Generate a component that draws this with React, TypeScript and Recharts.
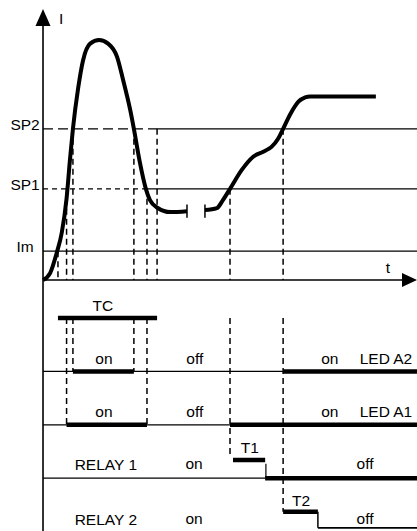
import React from 'react';
import { LineChart, Line, XAxis, YAxis, ReferenceLine, ReferenceDot } from 'recharts';

const W = 417;
const H = 531;

// time axis (arbitrary units: 0 = origin, 100 = arrow tip)
const T_DOMAIN: [number, number] = [-11.5, 100];
// current axis (arbitrary units: 0 = time axis)
const I_DOMAIN: [number, number] = [-104.6, 116.7];
// timing rows below the graph (0 = TC, 1 = LED A2, 2 = LED A1, 3 = RELAY 1, ~4 = RELAY 2)
const ROW_DOMAIN: [number, number] = [-5.955, 3.989];

// threshold levels
const levelNames = ['SP2', 'SP1', 'Im'];
const levelValues = [63, 38, 12];
const levelDashEnd = [30.5, 27.8, 0];
const levelDash = ['10 5', '5 4', ''];

// current curve, first part (start-up peak)
const curveA = [
  { t: 0, I: 0 },
  { t: 1.9, I: 2.9 },
  { t: 3.7, I: 11.5 },
  { t: 5.0, I: 19.6 },
  { t: 6.3, I: 34 },
  { t: 7.2, I: 50 },
  { t: 8.0, I: 63 },
  { t: 9.4, I: 80 },
  { t: 10.7, I: 91.5 },
  { t: 12.6, I: 98.5 },
  { t: 15.0, I: 100 },
  { t: 17.4, I: 98.5 },
  { t: 19.8, I: 93 },
  { t: 21.4, I: 83.5 },
  { t: 23.3, I: 71 },
  { t: 24.3, I: 63 },
  { t: 25.9, I: 49 },
  { t: 27.5, I: 38 },
  { t: 28.6, I: 33.3 },
  { t: 30.7, I: 30 },
  { t: 34.0, I: 28.3 },
  { t: 38.5, I: 28.7 },
];

// current curve, second part (after the break)
const curveB = [
  { t: 43.3, I: 29.2 },
  { t: 46.5, I: 30 },
  { t: 48.1, I: 33.3 },
  { t: 50.0, I: 38 },
  { t: 53.1, I: 45.8 },
  { t: 56.2, I: 51.4 },
  { t: 58.9, I: 53.5 },
  { t: 61.1, I: 55.5 },
  { t: 62.9, I: 59 },
  { t: 64.2, I: 63 },
  { t: 66.0, I: 68.75 },
  { t: 68.3, I: 74.3 },
  { t: 70.1, I: 76.1 },
  { t: 71.4, I: 76.5 },
  { t: 89.0, I: 76.5 },
];

const breakTimes = [38.5, 43.3];

// event times
const tIm = 4.0;
const tSp1Up = 6.3;
const tSp2Up = 8.0;
const tSp2Dn = 24.3;
const tSp1Dn = 27.8;
const tTcEnd = 30.5;
const tSp1Up2 = 50.0;
const tT1Start = 50.8;
const tT1End = 59.4;
const tSp2Up2 = 64.2;
const tT2End = 73.5;
const tEnd = 100;

// rows
const rowTC = 0;
const rowLedA2 = 1;
const rowLedA1 = 2;
const rowRelay1 = 3;
const rowRelay1High = 2.66;
const rowRelay2High = 3.63;
const rowRelay2Low = 3.93;

const FONT = "'Liberation Sans', Arial, sans-serif";
const FS = 15.5;

const txt = (
  key: string,
  t: number,
  y: number,
  axis: string,
  s: string,
  anchor: string = 'middle',
  dy: number = 0,
) => (
  <ReferenceDot
    key={key}
    x={t}
    y={y}
    yAxisId={axis}
    ifOverflow="visible"
    shape={(p: any) => (
      <text
        x={p.cx}
        y={p.cy + dy}
        textAnchor={anchor as any}
        fontFamily={FONT}
        fontSize={FS}
        fill="#000"
      >
        {s}
      </text>
    )}
  />
);

const seg = (
  key: string,
  x1: number,
  y1: number,
  x2: number,
  y2: number,
  axis: string,
  width: number,
  dash?: string,
) => (
  <ReferenceLine
    key={key}
    yAxisId={axis}
    segment={[
      { x: x1, y: y1 },
      { x: x2, y: y2 },
    ]}
    stroke="#000"
    strokeWidth={width}
    strokeDasharray={dash}
    ifOverflow="visible"
  />
);

export default function App() {
  const els: any[] = [];

  // level lines
  levelNames.forEach((n, i) => {
    const v = levelValues[i];
    if (levelDashEnd[i] > 0) els.push(seg('ld' + i, 0, v, levelDashEnd[i], v, 'I', 1.3, levelDash[i]));
    els.push(seg('ls' + i, levelDashEnd[i], v, tEnd, v, 'I', 1.3));
    els.push(txt('lt' + i, -4.8, v, 'I', n, 'middle', 1));
  });

  // axes
  els.push(seg('yaxis', 0, 106, 0, I_DOMAIN[0], 'I', 1.6));
  els.push(seg('taxis', 0, 0, 97, 0, 'I', 1.6));

  // dashed event verticals (from graph level to row)
  const vd = '6 4';
  const vlines: [number, number, number][] = [
    [tIm, levelValues[2], rowTC],
    [tSp1Up, levelValues[1], rowLedA1],
    [tSp2Up, levelValues[0], rowLedA2],
    [tSp2Dn, levelValues[0], rowLedA2],
    [tSp1Dn, levelValues[1], rowLedA1],
    [tTcEnd, levelValues[0], rowTC],
    [tSp1Up2, levelValues[1], rowRelay1High - 0.05],
    [tSp2Up2, levelValues[0], rowRelay2High],
  ];
  vlines.forEach(([t, iv, r], k) => {
    els.push(seg('va' + k, t, iv, t, 0, 'I', 1.5, vd));
    els.push(seg('vb' + k, t, 0, t, r, 'row', 1.5, vd));
  });

  // break markers
  breakTimes.forEach((t, k) => els.push(seg('br' + k, t, 26, t, 31.5, 'I', 1.5)));

  // row baselines
  els.push(seg('bA2', 0, rowLedA2, tEnd, rowLedA2, 'row', 1.3));
  els.push(seg('bA1', 0, rowLedA1, tEnd, rowLedA1, 'row', 1.3));
  els.push(seg('bR1', 0, rowRelay1, tEnd, rowRelay1, 'row', 1.3));

  // thick state bars
  const BW = 4.5;
  els.push(seg('tc', tIm, rowTC, tTcEnd, rowTC, 'row', BW));
  els.push(seg('a2on1', tSp2Up, rowLedA2, tSp2Dn, rowLedA2, 'row', BW));
  els.push(seg('a2on2', tSp2Up2, rowLedA2, tEnd, rowLedA2, 'row', BW));
  els.push(seg('a1on1', tSp1Up, rowLedA1, tSp1Dn, rowLedA1, 'row', BW));
  els.push(seg('a1on2', tSp1Up2, rowLedA1, tEnd, rowLedA1, 'row', BW));
  els.push(seg('r1t1', tT1Start, rowRelay1High, tT1End, rowRelay1High, 'row', BW));
  els.push(seg('r1v', tT1End + 0.2, rowRelay1High + 0.07, tT1End + 0.2, rowRelay1, 'row', 1.2));
  els.push(seg('r1off', tT1End, rowRelay1, tEnd, rowRelay1, 'row', BW));
  els.push(seg('r2t2', tSp2Up2, rowRelay2High, tT2End, rowRelay2High, 'row', BW));
  els.push(seg('r2v', tT2End, rowRelay2High, tT2End, rowRelay2Low, 'row', 1.5));
  els.push(seg('r2off', tT2End, rowRelay2Low, tEnd, rowRelay2Low, 'row', 1.8));

  // arrows
  els.push(
    <ReferenceDot
      key="arrI"
      x={0}
      y={112.9}
      yAxisId="I"
      ifOverflow="visible"
      shape={(p: any) => (
        <polygon
          points={`${p.cx},${p.cy} ${p.cx - 7.5},${p.cy + 17} ${p.cx + 7.5},${p.cy + 17}`}
          fill="#000"
        />
      )}
    />,
  );
  els.push(
    <ReferenceDot
      key="arrT"
      x={tEnd}
      y={0}
      yAxisId="I"
      ifOverflow="visible"
      shape={(p: any) => (
        <polygon
          points={`${p.cx},${p.cy} ${p.cx - 15},${p.cy - 7} ${p.cx - 15},${p.cy + 7}`}
          fill="#000"
        />
      )}
    />,
  );

  // axis labels
  els.push(txt('axI', 4.3, 106.7, 'I', 'I', 'start'));
  els.push(txt('axT', 92.2, 2.9, 'I', 't'));

  // row texts
  els.push(txt('TC', 16.0, -0.13, 'row', 'TC'));
  const stateRows: [number, string][] = [
    [rowLedA2 - 0.13, 'LED A2'],
    [rowLedA1 - 0.14, 'LED A1'],
  ];
  stateRows.forEach(([r, name], k) => {
    els.push(txt('on1' + k, 16.3, r, 'row', 'on'));
    els.push(txt('off' + k, 40.6, r, 'row', 'off'));
    els.push(txt('on2' + k, 76.7, r, 'row', 'on'));
    els.push(txt('nm' + k, 91.7, r, 'row', name));
  });
  const relayRows: [number, string][] = [
    [rowRelay1 - 0.15, 'RELAY 1'],
    [3.88, 'RELAY 2'],
  ];
  relayRows.forEach(([r, name], k) => {
    els.push(txt('rn' + k, 16.8, r, 'row', name));
    els.push(txt('ron' + k, 40.4, r - 0.02, 'row', 'on'));
    els.push(txt('roff' + k, 86.1, r - 0.02, 'row', 'off'));
  });
  els.push(txt('T1', 55.3, 2.53, 'row', 'T1'));
  els.push(txt('T2', 69.0, 3.52, 'row', 'T2'));

  return (
    <div style={{ position: 'absolute', left: 0, top: 0, width: W, height: H, background: '#fff' }}>
      <LineChart width={W} height={H} margin={{ top: 0, right: 0, bottom: 0, left: 0 }}>
        <XAxis type="number" dataKey="t" domain={T_DOMAIN} allowDataOverflow hide />
        <YAxis yAxisId="I" type="number" domain={I_DOMAIN} allowDataOverflow hide />
        <YAxis yAxisId="row" type="number" domain={ROW_DOMAIN} allowDataOverflow reversed hide />
        {els}
        <Line
          data={curveA}
          dataKey="I"
          yAxisId="I"
          type="monotone"
          dot={false}
          activeDot={false}
          stroke="#000"
          strokeWidth={4}
          isAnimationActive={false}
        />
        <Line
          data={curveB}
          dataKey="I"
          yAxisId="I"
          type="monotone"
          dot={false}
          activeDot={false}
          stroke="#000"
          strokeWidth={4}
          isAnimationActive={false}
        />
      </LineChart>
    </div>
  );
}
